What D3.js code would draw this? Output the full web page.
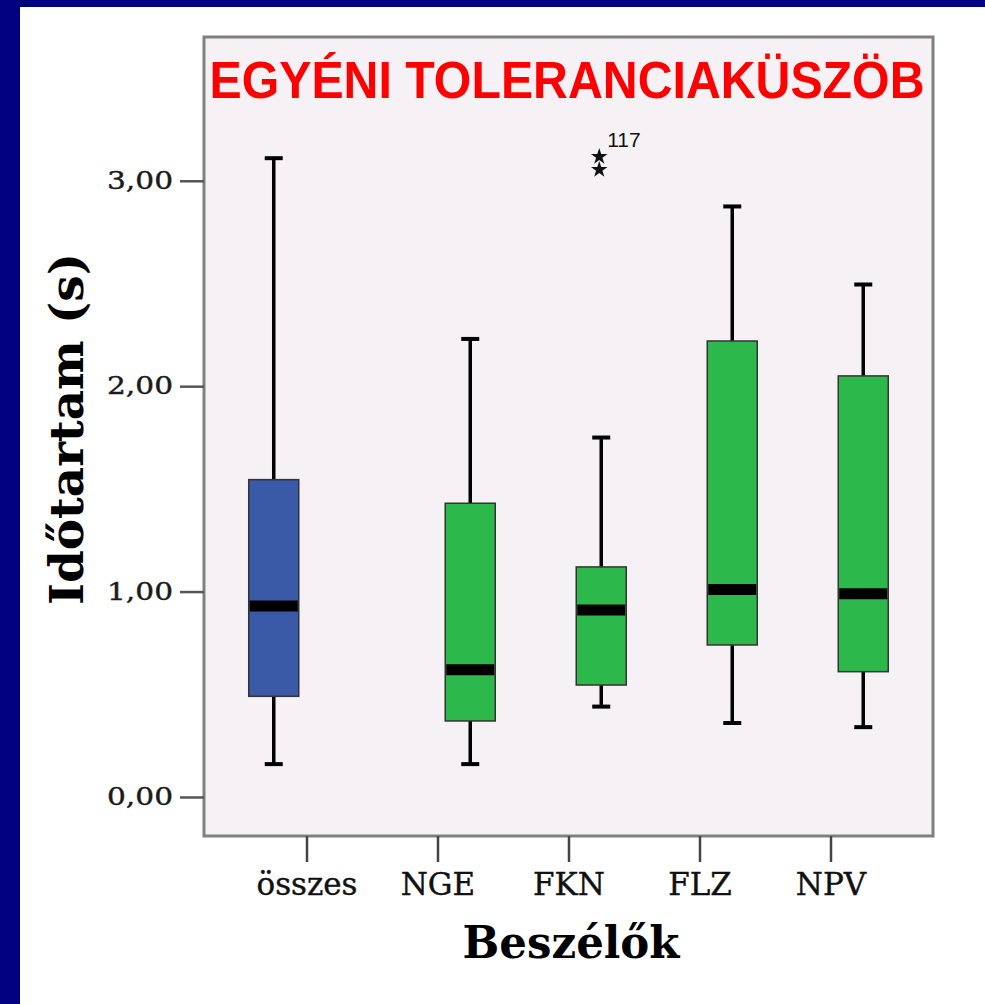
<!DOCTYPE html>
<html><head><meta charset="utf-8">
<script src="https://cdn.jsdelivr.net/npm/d3@7"></script>
<style>html,body{margin:0;padding:0;background:#fff;}svg{display:block;}</style>
</head><body>
<script>
// ---- data ----
const categories = ["összes", "NGE", "FKN", "FLZ", "NPV"];
const whiskerLow  = [0.16, 0.16, 0.44, 0.36, 0.34];
const q1          = [0.49, 0.37, 0.545, 0.74, 0.61];
const medians     = [0.93, 0.62, 0.91, 1.01, 0.99];
const q3          = [1.545, 1.43, 1.12, 2.22, 2.05];
const whiskerHigh = [3.11, 2.23, 1.75, 2.875, 2.495];
const boxSide     = [-1, 1, 1, 1, 1];
const boxColors   = ["#3a5aa8", "#2cb84b", "#2cb84b", "#2cb84b", "#2cb84b"];
const outliers    = [{cat: "FKN", value: 3.117, label: "117"}, {cat: "FKN", value: 3.054, label: ""}];
const yTicks      = [0, 1, 2, 3];
const title = "EGYÉNI TOLERANCIAKÜSZÖB";
const yTitle = "Időtartam (s)";
const xTitle = "Beszélők";

const W = 985, H = 1004;
const svg = d3.select("body").append("svg").attr("width", W).attr("height", H);
// navy border
svg.append("rect").attr("x", 0).attr("y", 0).attr("width", W).attr("height", H).attr("fill", "#000080");
svg.append("rect").attr("x", 20).attr("y", 7).attr("width", W - 20).attr("height", H - 7).attr("fill", "#ffffff");

const plot = {left: 204, right: 933, top: 37, bottom: 836};
const y = d3.scaleLinear().domain([-0.19, 3.70]).range([plot.bottom, plot.top]);
const x = d3.scalePoint().domain(categories).range([plot.left, plot.right]).padding(0.7824);
const off = x.step() * 0.25;
const boxW = 50;

svg.append("rect").attr("x", plot.left).attr("y", plot.top)
  .attr("width", plot.right - plot.left).attr("height", plot.bottom - plot.top)
  .attr("fill", "#f6f1f5").attr("stroke", "#808080").attr("stroke-width", 3);

// title
svg.append("text").attr("x", 567).attr("y", 98).attr("text-anchor", "middle")
  .attr("font-family", "Liberation Sans, Arial, sans-serif").attr("font-weight", "bold")
  .attr("font-size", 51).attr("fill", "#ff0000")
  .attr("textLength", 715).attr("lengthAdjust", "spacingAndGlyphs").text(title);

// y axis
const yAxis = svg.append("g").attr("transform", `translate(${plot.left},0)`)
  .call(d3.axisLeft(y).tickValues(yTicks).tickSize(24).tickPadding(7)
    .tickFormat(d => d3.format(".2f")(d).replace(".", ",")));
yAxis.select(".domain").remove();
yAxis.selectAll(".tick line").attr("stroke", "#555").attr("stroke-width", 2.5);
yAxis.selectAll(".tick text").attr("font-family", "DejaVu Serif, serif").attr("font-size", 24)
  .attr("fill", "#1a1a1a").attr("stroke", "#1a1a1a").attr("stroke-width", 0.4)
  .attr("textLength", 66).attr("lengthAdjust", "spacingAndGlyphs");

// x axis
const xAxis = svg.append("g").attr("transform", `translate(0,${plot.bottom})`)
  .call(d3.axisBottom(x).tickSize(26).tickPadding(11));
xAxis.select(".domain").remove();
xAxis.selectAll(".tick line").attr("stroke", "#444").attr("stroke-width", 2.5);
xAxis.selectAll(".tick text").attr("font-family", "DejaVu Serif, serif").attr("font-size", 31)
  .attr("fill", "#111").attr("stroke", "#111").attr("stroke-width", 0.4);

// axis titles
svg.append("text").attr("transform", "translate(83,429) rotate(-90)").attr("text-anchor", "middle")
  .attr("font-family", "DejaVu Serif, serif").attr("font-weight", "bold").attr("font-size", 47)
  .attr("fill", "#000").attr("textLength", 352).attr("lengthAdjust", "spacingAndGlyphs").text(yTitle);
svg.append("text").attr("x", 571).attr("y", 958).attr("text-anchor", "middle")
  .attr("font-family", "DejaVu Serif, serif").attr("font-weight", "bold").attr("font-size", 44)
  .attr("fill", "#000").attr("textLength", 217).attr("lengthAdjust", "spacingAndGlyphs").text(xTitle);

// boxes
const boxes = categories.map((c, i) => ({c, i, cx: x(c) + boxSide[i] * off}));
const g = svg.append("g");
boxes.forEach(b => {
  const i = b.i, cx = b.cx;
  g.append("line").attr("x1", cx).attr("x2", cx).attr("y1", y(q3[i])).attr("y2", y(whiskerHigh[i]))
    .attr("stroke", "#000").attr("stroke-width", 3.5);
  g.append("line").attr("x1", cx).attr("x2", cx).attr("y1", y(q1[i])).attr("y2", y(whiskerLow[i]))
    .attr("stroke", "#000").attr("stroke-width", 3.5);
  [whiskerHigh[i], whiskerLow[i]].forEach(v => {
    g.append("line").attr("x1", cx - 9).attr("x2", cx + 9).attr("y1", y(v)).attr("y2", y(v))
      .attr("stroke", "#000").attr("stroke-width", 4);
  });
  g.append("rect").attr("x", cx - boxW / 2).attr("y", y(q3[i])).attr("width", boxW)
    .attr("height", y(q1[i]) - y(q3[i])).attr("fill", boxColors[i])
    .attr("stroke", "#333").attr("stroke-width", 1.5);
  g.append("line").attr("x1", cx - boxW / 2 + 1).attr("x2", cx + boxW / 2 - 1)
    .attr("y1", y(medians[i])).attr("y2", y(medians[i]))
    .attr("stroke", "#000").attr("stroke-width", 11);
});

// outliers
outliers.forEach(o => {
  const i = categories.indexOf(o.cat);
  const cx = x(o.cat) + boxSide[i] * off - 2;
  g.append("path").attr("d", d3.symbol(d3.symbolStar, 85)())
    .attr("transform", `translate(${cx},${y(o.value)})`).attr("fill", "#111");
  if (o.label) {
    g.append("text").attr("x", cx + 8).attr("y", y(o.value) - 10)
      .attr("font-family", "Liberation Sans, Arial, sans-serif").attr("font-size", 21)
      .attr("fill", "#111").text(o.label);
  }
});
</script>
</body></html>
